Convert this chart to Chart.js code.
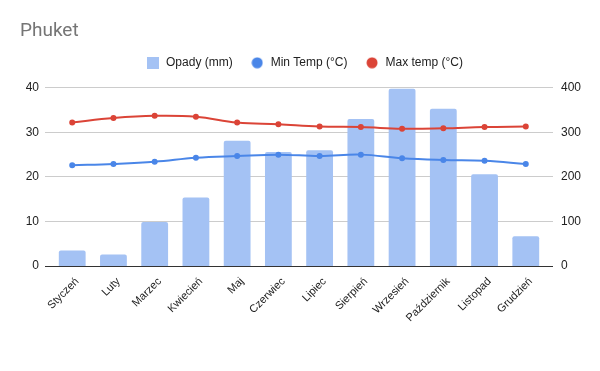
<!DOCTYPE html>
<html>
<head>
<meta charset="utf-8">
<script src="https://cdn.jsdelivr.net/npm/chart.js@4.4.0/dist/chart.umd.min.js"></script>
<style>
    body { margin: 0; background: #fff; }
    #wrap { width: 600px; height: 371px; position: relative; }
</style>
</head>
<body>
<div id="wrap"><canvas id="chartCanvas"></canvas></div>
<script>
// Data
const months = ["Styczeń", "Luty", "Marzec", "Kwiecień", "Maj", "Czerwiec", "Lipiec", "Sierpień", "Wrzesień", "Październik", "Listopad", "Grudzień"];
const rainfall = [35, 26, 99, 154, 281, 256, 260, 330, 398, 353, 206, 67];
const minTemp = [22.6, 22.9, 23.4, 24.3, 24.7, 25.0, 24.7, 25.0, 24.2, 23.8, 23.6, 22.9];
const maxTemp = [32.2, 33.2, 33.7, 33.5, 32.2, 31.8, 31.3, 31.2, 30.8, 30.9, 31.2, 31.3];
const leftTicks = [0, 10, 20, 30, 40];
const rightTicks = [0, 100, 200, 300, 400];

const font = "Arial, 'Liberation Sans', sans-serif";
const barColor = "#a4c2f4";
const minColor = "#4a86e8";
const maxColor = "#db4437";

// small legend markers
function marker(color, round) {
    const c = document.createElement("canvas");
    c.width = 12;
    c.height = 12;
    const g = c.getContext("2d");
    g.fillStyle = color;
    if (round) {
        g.beginPath();
        g.arc(6, 6, 5.5, 0, Math.PI * 2);
        g.fill();
    } else {
        g.fillRect(0, 0, 12, 12);
    }
    return c;
}
const markers = [marker(barColor, false), marker(minColor, true), marker(maxColor, true)];

// month index as x so the grid can run a bit past the outer bars
const toPoints = arr => arr.map((v, i) => ({ x: i, y: v }));

// push the legend up away from the plot
const legendGap = {
    id: "legendGap",
    beforeInit(chart) {
        const fit = chart.legend.fit;
        chart.legend.fit = function () {
            fit.call(this);
            this.height += 9;
        };
    },
};

const ctx = document.getElementById("chartCanvas").getContext("2d");

new Chart(ctx, {
    type: "bar",
    plugins: [legendGap],
    data: {
        datasets: [
            {
                label: "Opady (mm)",
                data: toPoints(rainfall),
                yAxisID: "y1",
                backgroundColor: barColor,
                barPercentage: 0.65,
                categoryPercentage: 1,
                borderRadius: 2,
                order: 3,
            },
            {
                label: "Min Temp (°C)",
                type: "line",
                data: toPoints(minTemp),
                yAxisID: "y",
                borderColor: minColor,
                backgroundColor: minColor,
                borderWidth: 2,
                pointRadius: 2,
                tension: 0.4,
                order: 1,
            },
            {
                label: "Max temp (°C)",
                type: "line",
                data: toPoints(maxTemp),
                yAxisID: "y",
                borderColor: maxColor,
                backgroundColor: maxColor,
                borderWidth: 2,
                pointRadius: 2,
                tension: 0.4,
                order: 0,
            },
        ],
    },
    options: {
        responsive: true,
        maintainAspectRatio: false,
        animation: false,
        layout: {
            padding: { left: 20, right: 12, top: 0, bottom: 0 },
        },
        plugins: {
            title: {
                display: true,
                text: "Phuket",
                align: "start",
                color: "#757575",
                font: { family: "Roboto, Arial, sans-serif", size: 19, weight: "normal" },
                padding: { top: 20, bottom: -3 },
            },
            legend: {
                display: true,
                labels: {
                    usePointStyle: true,
                    pointStyleWidth: 15,
                    boxWidth: 12,
                    boxHeight: 12,
                    color: "#222",
                    padding: 17,
                    font: { family: font, size: 12 },
                    sort: (a, b) => a.datasetIndex - b.datasetIndex,
                    generateLabels: chart =>
                        Chart.defaults.plugins.legend.labels.generateLabels(chart).map(item => ({
                            ...item,
                            pointStyle: markers[item.datasetIndex],
                            lineWidth: 0,
                        })),
                },
            },
            tooltip: { enabled: false },
        },
        scales: {
            x: {
                type: "linear",
                offset: false,
                min: -0.66,
                max: months.length - 1 + 0.66,
                afterBuildTicks: s => { s.ticks = months.map((m, i) => ({ value: i })); },
                grid: { display: false, drawTicks: false, offset: false },
                border: { display: false },
                ticks: {
                    color: "#222",
                    font: { family: font, size: 11 },
                    maxRotation: 45,
                    minRotation: 45,
                    autoSkip: false,
                    padding: 9,
                    labelOffset: 5,
                    callback: v => months[v],
                },
                afterFit: s => { s.height = 105; },
            },
            y: {
                position: "left",
                min: 0,
                max: 40,
                afterBuildTicks: s => { s.ticks = leftTicks.map(v => ({ value: v })); },
                grid: {
                    color: c => (c.tick && c.tick.value === 0 ? "#333" : "#ccc"),
                    drawTicks: false,
                },
                border: { display: false },
                ticks: {
                    color: "#222",
                    font: { family: font, size: 12 },
                    padding: 6,
                },
                afterFit: s => { s.width = 25; },
            },
            y1: {
                position: "right",
                min: 0,
                max: 400,
                afterBuildTicks: s => { s.ticks = rightTicks.map(v => ({ value: v })); },
                grid: { display: false, drawTicks: false },
                border: { display: false },
                ticks: {
                    color: "#222",
                    font: { family: font, size: 12 },
                    padding: 8,
                },
                afterFit: s => { s.width = 35; },
            },
        },
    },
});
</script>
</body>
</html>
